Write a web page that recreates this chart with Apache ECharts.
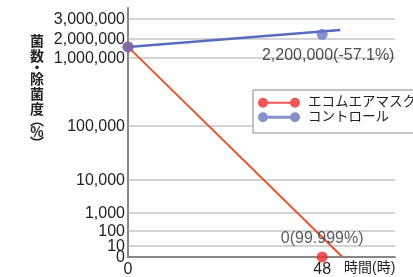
<!DOCTYPE html>
<html><head><meta charset="utf-8">
<script src="https://cdn.jsdelivr.net/npm/echarts@6/dist/echarts.min.js"></script>
<style>html,body{margin:0;padding:0;background:#fff}#c{width:413px;height:277px}</style>
</head><body><div id="c"></div>
<script>
// x tick labels (hours)
const xTicks = [0, 48];
// y axis tick values and labels (non-uniform scale of the original)
const yTickValues = [0, 10, 100, 1000, 10000, 100000, 1000000, 2000000, 3000000];
const yTickLabels = ['0', '10', '100', '1,000', '10,000', '100,000', '1,000,000', '2,000,000', '3,000,000'];
const yTickPos = [0, 11, 26, 44, 77, 131, 199, 218, 238];
// series
const maskName = 'エコムエアマスク';
const controlName = 'コントロール';
const maskPoints = [[0, 1500000], [48, 0]];
const maskTrend = [[0, 1500000], [53, 0]];
const controlPoints = [[0, 1500000], [48, 2200000]];
const controlTrend = [[0, 1500000], [52.5, 2400000]];
const maskLabel = '0(99.999%)';
const controlLabel = '2,200,000(-57.1%)';

function toPos(v) {
  if (v <= 0) return 0;
  let i = 0;
  while (i < yTickValues.length - 2 && v > yTickValues[i + 1]) i++;
  const a = yTickValues[i], b = yTickValues[i + 1];
  const pa = yTickPos[i], pb = yTickPos[i + 1];
  let t;
  if (a <= 0) t = (v - a) / (b - a);
  else t = Math.log(v / a) / Math.log(b / a);
  return pa + t * (pb - pa);
}
const conv = arr => arr.map(p => [p[0], toPos(p[1])]);

const FONT = 'Liberation Sans, Arial, Noto Sans CJK JP, sans-serif';
const RED = '#ee2b2b', REDLINE = '#e4572e', BLUE = '#6675bf', BLUELINE = '#586cbc';
const X_MAX = 66;
const iconRed = 'path://M0,5A5,5,0,1,1,10,5A5,5,0,1,1,0,5ZM5,4L37,4L37,6L5,6ZM32,5A5,5,0,1,1,42,5A5,5,0,1,1,32,5Z';
const iconBlue = 'path://M0,5A5,5,0,1,1,10,5A5,5,0,1,1,0,5ZM5,3.5L37,3.5L37,6.5L5,6.5ZM32,5A5,5,0,1,1,42,5A5,5,0,1,1,32,5Z';

// horizontal grid lines as plain line series, one per tick position
const gridSeries = yTickPos.slice(1).map(p => ({
  type: 'line', silent: true, symbol: 'none', z: 1, animation: false,
  data: [[0, p], [X_MAX, p]],
  lineStyle: {color: '#a8a8a8', width: 1},
  itemStyle: {color: '#a8a8a8'},
  emphasis: {disabled: true},
  tooltip: {show: false}
}));

const chart = echarts.init(document.getElementById('c'), null, {renderer: 'canvas'});
chart.setOption({
  animation: false,
  backgroundColor: '#fff',
  textStyle: {fontFamily: FONT},
  title: [
    {
      text: '{a|菌}\n{a|数}\n{b|・}\n{a|除}\n{a|菌}\n{a|度}\n{c|︵}\n{a|%}\n{c|︶}',
      left: 30, top: 33, padding: 0,
      textStyle: {
        rich: {
          a: {fontSize: 14, lineHeight: 15, color: '#222', align: 'center', fontFamily: 'Noto Sans CJK JP'},
          b: {fontSize: 14, lineHeight: 8, color: '#222', align: 'center', fontFamily: 'Noto Sans CJK JP'},
          c: {fontSize: 14, lineHeight: 8, color: '#222', align: 'center', fontFamily: 'Noto Sans CJK JP'}
        }
      }
    },
    {
      text: '時間(時)', left: 344, top: 261, padding: 0,
      textStyle: {fontSize: 14, fontWeight: 'normal', color: '#222', fontFamily: FONT}
    }
  ],
  legend: {
    orient: 'vertical', left: 253, top: 90, z: 10,
    backgroundColor: '#fff', borderColor: '#888', borderWidth: 1,
    padding: [6, 60, 9, 5], itemGap: 1, itemWidth: 42, itemHeight: 10,
    textStyle: {fontSize: 13.5, color: '#222', lineHeight: 12, padding: [0, 0, 0, 3], fontFamily: FONT},
    data: [
      {name: maskName, icon: iconRed, itemStyle: {color: RED, borderWidth: 0}},
      {name: controlName, icon: iconBlue, itemStyle: {color: BLUE, borderWidth: 0}}
    ]
  },
  grid: {left: 128, right: 18, top: 8, bottom: 20, containLabel: false, outerBoundsMode: 'none'},
  xAxis: {
    type: 'value', min: 0, max: X_MAX,
    axisLine: {lineStyle: {color: '#888', width: 2}},
    axisTick: {show: false},
    splitLine: {show: false},
    axisLabel: {customValues: xTicks, fontSize: 16, color: '#222', margin: 5, fontFamily: FONT}
  },
  yAxis: {
    type: 'value', min: 0, max: 249,
    axisLine: {show: true, lineStyle: {color: '#888', width: 2}},
    axisTick: {show: false},
    splitLine: {show: false},
    axisLabel: {show: false}
  },
  series: gridSeries.concat([
    {
      type: 'custom', z: 1, clip: false, silent: true,
      data: yTickPos.map((p, i) => [0, p, i]),
      encode: {x: 0, y: 1},
      renderItem: function (params, api) {
        const a = api.coord([api.value(0), api.value(1)]);
        return {
          type: 'text',
          style: {
            text: yTickLabels[api.value(2)], x: a[0] - 3, y: a[1] + 1,
            align: 'right', verticalAlign: 'middle',
            font: '16px ' + FONT, fill: '#222'
          }
        };
      }
    },
    {
      name: maskName, type: 'scatter', symbolSize: 11, clip: false, z: 3,
      itemStyle: {color: RED},
      data: conv(maskPoints).map((p, i) => ({
        value: p,
        label: i === 1 ? {show: true, position: 'top', distance: 5, formatter: maskLabel, fontSize: 16, color: '#333', fontFamily: FONT} : {show: false}
      }))
    },
    {
      name: controlName, type: 'scatter', symbolSize: 11, clip: false, z: 4,
      itemStyle: {color: BLUE},
      data: conv(controlPoints).map((p, i) => ({
        value: p,
        label: i === 1 ? {show: true, position: 'bottom', distance: 8, offset: [6, 0], formatter: controlLabel, fontSize: 16, color: '#222', fontFamily: FONT} : {show: false}
      }))
    },
    {
      name: maskName, type: 'line', data: conv(maskTrend), symbol: 'none', z: 2,
      lineStyle: {color: REDLINE, width: 2}, itemStyle: {color: RED}
    },
    {
      name: controlName, type: 'line', data: conv(controlTrend), symbol: 'none', z: 2,
      lineStyle: {color: BLUELINE, width: 2.5}, itemStyle: {color: BLUE}
    }
  ])
});
</script>
</body></html>
